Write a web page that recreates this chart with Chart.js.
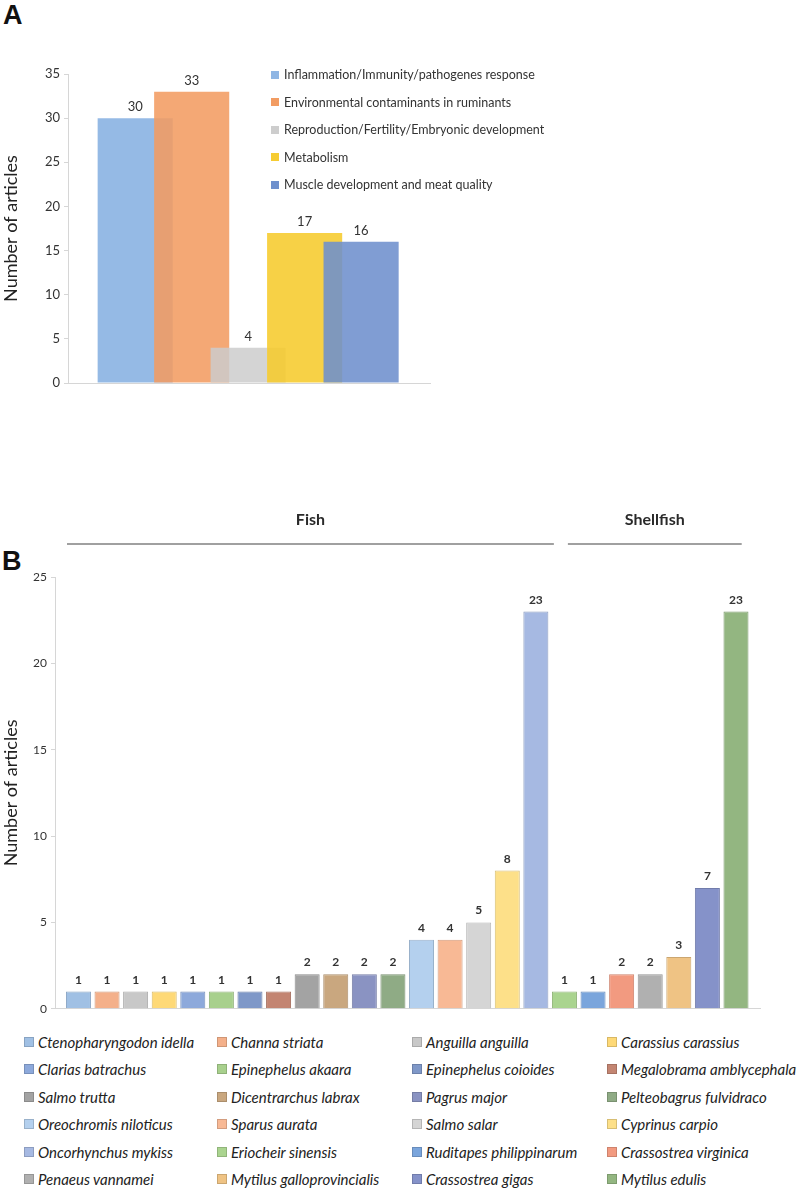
<!DOCTYPE html>
<html>
<head>
<meta charset="utf-8">
<script src="https://cdn.jsdelivr.net/npm/chart.js@4.4.0/dist/chart.umd.min.js"></script>
<style>
  body { margin: 0; background: #fff; }
  #wrap { position: relative; width: 800px; height: 1189px; overflow: hidden; background: #fff; }
  canvas { position: absolute; left: 0; }
  .panel { position: absolute; font-family: 'Liberation Sans', Arial, sans-serif; font-weight: bold; font-size: 27px; color: #111; line-height: 1; }
  .legA { position: absolute; left: 271px; top: 61px; font-family: Lato, 'Open Sans', sans-serif; font-size: 12.5px; color: #333; }
  .legA .row { height: 27.5px; display: flex; align-items: center; white-space: nowrap; }
  .legA .sw { width: 8px; height: 8px; margin-right: 5px; }
  .legB { position: absolute; top: 1028px; left: 0; width: 800px; font-family: Lato, 'Open Sans', sans-serif; font-style: italic; font-size: 15px; color: #222; }
  .legB .item { position: absolute; height: 27.5px; display: flex; align-items: center; white-space: nowrap; }
  .legB .sw { width: 8px; height: 8px; margin-right: 4px; border: 1px solid; }
</style>
</head>
<body>
<div id="wrap">
  <div class="panel" style="left:3px;top:2px;">A</div>
  <canvas id="chartA" width="800" height="400" style="top:0px;"></canvas>
  <div class="legA" id="legA"></div>

  <div class="panel" style="left:2px;top:548px;">B</div>
  <canvas id="chartB" width="800" height="540" style="top:480px;"></canvas>
  <div class="legB" id="legB"></div>
</div>

<script>
// ---------- Panel A data ----------
const topicsA = [
  'Inflammation/Immunity/pathogenes response',
  'Environmental contaminants in ruminants',
  'Reproduction/Fertility/Embryonic development',
  'Metabolism',
  'Muscle development and meat quality'
];
const articlesA = [30, 33, 4, 17, 16];
const ticksA = [0, 5, 10, 15, 20, 25, 30, 35];

// ---------- Panel B data ----------
const speciesB = [
  'Ctenopharyngodon idella', 'Channa striata', 'Anguilla anguilla', 'Carassius carassius',
  'Clarias batrachus', 'Epinephelus akaara', 'Epinephelus coioides', 'Megalobrama amblycephala',
  'Salmo trutta', 'Dicentrarchus labrax', 'Pagrus major', 'Pelteobagrus fulvidraco',
  'Oreochromis niloticus', 'Sparus aurata', 'Salmo salar', 'Cyprinus carpio',
  'Oncorhynchus mykiss', 'Eriocheir sinensis', 'Ruditapes philippinarum', 'Crassostrea virginica',
  'Penaeus vannamei', 'Mytilus galloprovincialis', 'Crassostrea gigas', 'Mytilus edulis'
];
const articlesB = [1, 1, 1, 1, 1, 1, 1, 1, 2, 2, 2, 2, 4, 4, 5, 8, 23, 1, 1, 2, 2, 3, 7, 23];
const groupNamesB = ['Fish', 'Shellfish'];
const groupFirstB = [0, 17];
const groupLastB = [16, 23];
const ticksB = [0, 5, 10, 15, 20, 25];

// ---------- Styles ----------
const colorsA = ['rgba(143,182,228,0.95)', 'rgba(242,156,98,0.88)', 'rgba(205,205,205,0.85)', 'rgba(246,204,50,0.9)', 'rgba(110,144,205,0.88)'];
const swatchA = ['#8fb6e4', '#f29c62', '#cdcdcd', '#f6cc32', '#6e90cd'];
const colorsB = [
  '#a0c0e4', '#f4b08a', '#c8c8c8', '#fed977',
  '#8da9db', '#a8d08d', '#7f98c8', '#c38572',
  '#a3a3a3', '#c9a77f', '#8a93c2', '#8fab85',
  '#b4d0ee', '#f8b995', '#d5d5d5', '#fde089',
  '#a6b9e2', '#aad48f', '#7aa5dc', '#f29a80',
  '#b0b0b0', '#efc384', '#8592c9', '#93b681'
];
function darken(hex, f) {
  const n = parseInt(hex.slice(1), 16);
  const r = Math.round(((n >> 16) & 255) * f), g = Math.round(((n >> 8) & 255) * f), b = Math.round((n & 255) * f);
  return `rgb(${r},${g},${b})`;
}
const bordersB = colorsB.map(c => darken(c, 0.85));

const FONT = "Lato, 'Open Sans', sans-serif";

// value labels above bars
const valueLabels = {
  id: 'valueLabels',
  afterDatasetsDraw(chart, args, opts) {
    const ctx = chart.ctx;
    ctx.save();
    ctx.font = opts.font;
    ctx.fillStyle = opts.color;
    ctx.textAlign = 'center';
    ctx.textBaseline = 'alphabetic';
    chart.data.datasets.forEach((ds, di) => {
      const meta = chart.getDatasetMeta(di);
      meta.data.forEach((el, i) => {
        const v = ds.data[i];
        const val = (v !== null && typeof v === 'object') ? v.y : v;
        ctx.fillText(String(val), el.x, el.y - opts.offset);
      });
    });
    ctx.restore();
  }
};

function keepIntegerTicks(scale) {
  scale.ticks = scale.ticks.filter(t => Number.isInteger(t.value));
}

// ---------- Chart A ----------
new Chart(document.getElementById('chartA'), {
  type: 'bar',
  data: {
    datasets: topicsA.map((t, i) => ({
      label: t,
      data: [{ x: i, y: articlesA[i] }],
      backgroundColor: colorsA[i],
      borderWidth: 0,
      grouped: false,
      order: topicsA.length - i,
      categoryPercentage: 1,
      barPercentage: 1.33
    }))
  },
  options: {
    responsive: false,
    devicePixelRatio: 1,
    animation: false,
    layout: { padding: { top: 74, right: 370, bottom: 13, left: 0 } },
    plugins: {
      legend: { display: false },
      tooltip: { enabled: false },
      valueLabels: { font: `13px ${FONT}`, color: '#333', offset: 7 }
    },
    scales: {
      x: {
        type: 'linear',
        offset: false,
        min: -1.19,
        max: 5.22,
        afterBuildTicks: keepIntegerTicks,
        afterFit: s => { s.height = 4; },
        ticks: { display: false, stepSize: 1 },
        grid: { display: false },
        border: { display: true, color: '#d6d6d6', width: 1 }
      },
      y: {
        min: 0,
        max: 35,
        afterBuildTicks: s => { s.ticks = ticksA.map(v => ({ value: v })); },
        afterFit: s => { s.width = 68; },
        ticks: { font: { family: FONT, size: 13 }, color: '#333', padding: 4 },
        grid: { display: true, drawOnChartArea: false, drawTicks: true, tickLength: 4, color: '#d6d6d6' },
        border: { display: true, color: '#d6d6d6', width: 1 },
        title: { display: true, text: 'Number of articles', font: { family: FONT, size: 18 }, color: '#222', padding: { top: 0, bottom: 2 } }
      }
    }
  },
  plugins: [valueLabels]
});

// legend A
const legA = document.getElementById('legA');
topicsA.forEach((t, i) => {
  const row = document.createElement('div');
  row.className = 'row';
  row.innerHTML = `<span class="sw" style="background:${swatchA[i]}"></span><span>${t}</span>`;
  legA.appendChild(row);
});

// ---------- Chart B ----------
const groupHeaders = {
  id: 'groupHeaders',
  afterDraw(chart, args, opts) {
    const ctx = chart.ctx;
    const xs = chart.scales.x;
    ctx.save();
    groupNamesB.forEach((name, g) => {
      const x1 = xs.getPixelForValue(groupFirstB[g] + opts.padStart[g]);
      const x2 = xs.getPixelForValue(groupLastB[g] + opts.padEnd[g]);
      ctx.strokeStyle = '#a0a0a0';
      ctx.lineWidth = 2;
      ctx.beginPath();
      ctx.moveTo(x1, opts.lineY);
      ctx.lineTo(x2, opts.lineY);
      ctx.stroke();
      ctx.font = `bold 16px ${FONT}`;
      ctx.fillStyle = '#2a2a2a';
      ctx.textAlign = 'center';
      ctx.textBaseline = 'middle';
      ctx.fillText(name, (x1 + x2) / 2, opts.textY);
    });
    ctx.restore();
  }
};

new Chart(document.getElementById('chartB'), {
  type: 'bar',
  data: {
    datasets: [{
      label: 'Number of articles',
      data: articlesB.map((v, i) => ({ x: i, y: v })),
      backgroundColor: colorsB,
      borderColor: bordersB,
      borderWidth: 1,
      categoryPercentage: 1,
      barPercentage: 0.875
    }]
  },
  options: {
    responsive: false,
    devicePixelRatio: 1,
    animation: false,
    layout: { padding: { top: 97, right: 40, bottom: 7, left: 0 } },
    plugins: {
      legend: { display: false },
      tooltip: { enabled: false },
      valueLabels: { font: `bold 12px ${FONT}`, color: '#333', offset: 8 },
      groupHeaders: { padStart: [-0.4, 0.12], padEnd: [0.63, 0.2], lineY: 64, textY: 40 }
    },
    scales: {
      x: {
        type: 'linear',
        offset: false,
        min: -0.82,
        max: 23.84,
        afterBuildTicks: keepIntegerTicks,
        afterFit: s => { s.height = 4; },
        ticks: { display: false, stepSize: 1 },
        grid: { display: false },
        border: { display: true, color: '#d6d6d6', width: 1 }
      },
      y: {
        min: 0,
        max: 25,
        afterBuildTicks: s => { s.ticks = ticksB.map(v => ({ value: v })); },
        afterFit: s => { s.width = 55; },
        ticks: { font: { family: FONT, size: 12 }, color: '#333', padding: 4 },
        grid: { display: true, drawOnChartArea: false, drawTicks: true, tickLength: 4, color: '#d6d6d6' },
        border: { display: true, color: '#d6d6d6', width: 1 },
        title: { display: true, text: 'Number of articles', font: { family: FONT, size: 18 }, color: '#222', padding: { top: 0, bottom: 0 } }
      }
    }
  },
  plugins: [valueLabels, groupHeaders]
});

// legend B (4 columns, row-major)
const legB = document.getElementById('legB');
const colX = [24, 217, 412, 607];
speciesB.forEach((s, i) => {
  const item = document.createElement('div');
  item.className = 'item';
  item.style.left = colX[i % 4] + 'px';
  item.style.top = (Math.floor(i / 4) * 27.5) + 'px';
  item.innerHTML = `<span class="sw" style="background:${colorsB[i]};border-color:${bordersB[i]}"></span><span>${s}</span>`;
  legB.appendChild(item);
});
</script>
</body>
</html>
